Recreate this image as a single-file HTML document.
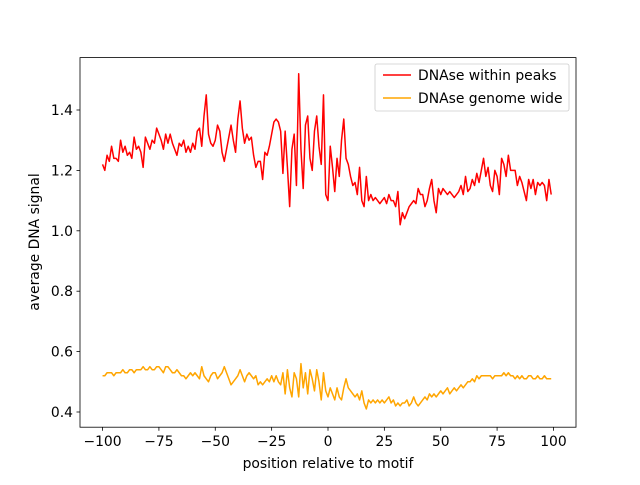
<!DOCTYPE html>
<html><head><meta charset="utf-8"><style>
body{margin:0;background:#fff}
svg text{font-family:"DejaVu Sans","Liberation Sans",sans-serif;font-size:13.9px;fill:#000}
</style></head><body>
<svg id="chart" width="640" height="480" xmlns="http://www.w3.org/2000/svg">
<rect width="640" height="480" fill="#fff"/>
<g id="plot"></g>
<rect x="80" y="57.6" width="496" height="369.6" fill="none" stroke="#000" stroke-width="0.8"/>
<g id="xt"></g><g id="yt"></g>
<text x="328" y="468" text-anchor="middle">position relative to motif</text>
<text transform="translate(39,242) rotate(-90)" text-anchor="middle">average DNA signal</text>
<g>
<rect x="375" y="64" width="194" height="47" rx="2" fill="#fff" fill-opacity="0.8" stroke="#ccc" stroke-width="0.8"/>
<g><line x1="383" y1="75" x2="411" y2="75" stroke="red" stroke-width="1.5"/><text x="418" y="80">DNAse within peaks</text></g>
<g><line x1="383" y1="98" x2="411" y2="98" stroke="orange" stroke-width="1.5"/><text x="418" y="103">DNAse genome wide</text></g>
</g>
</svg>
<script>
const xTicks=[-100,-75,-50,-25,0,25,50,75,100];
const yTicks=[0.4,0.6,0.8,1.0,1.2,1.4];
const yTickLabels=["0.4","0.6","0.8","1.0","1.2","1.4"];
const positions=[];for(let i=-100;i<100;i++)positions.push(i);
const peaks=[1.22,1.20,1.25,1.23,1.28,1.24,1.24,1.23,1.30,1.26,
1.28,1.25,1.26,1.24,1.31,1.27,1.28,1.26,1.21,1.31,
1.29,1.27,1.30,1.29,1.34,1.32,1.30,1.27,1.32,1.29,
1.32,1.29,1.27,1.25,1.29,1.28,1.30,1.26,1.28,1.26,
1.29,1.27,1.33,1.34,1.28,1.38,1.45,1.32,1.29,1.28,
1.30,1.35,1.33,1.26,1.23,1.27,1.31,1.35,1.30,1.26,
1.37,1.43,1.34,1.29,1.32,1.30,1.31,1.25,1.21,1.23,
1.23,1.17,1.26,1.25,1.28,1.32,1.36,1.37,1.36,1.33,
1.19,1.33,1.21,1.08,1.27,1.32,1.15,1.52,1.27,1.14,
1.35,1.38,1.24,1.20,1.33,1.38,1.28,1.22,1.45,1.12,
1.10,1.28,1.21,1.13,1.24,1.18,1.30,1.37,1.24,1.22,
1.18,1.15,1.16,1.12,1.21,1.10,1.08,1.18,1.10,1.12,
1.10,1.11,1.10,1.09,1.10,1.11,1.09,1.12,1.10,1.10,
1.08,1.13,1.02,1.06,1.04,1.06,1.08,1.09,1.10,1.09,
1.14,1.12,1.12,1.08,1.10,1.14,1.17,1.10,1.06,1.14,
1.12,1.14,1.13,1.12,1.13,1.12,1.11,1.12,1.13,1.15,
1.12,1.18,1.13,1.14,1.17,1.15,1.19,1.16,1.20,1.24,
1.18,1.21,1.15,1.13,1.20,1.18,1.12,1.24,1.22,1.18,
1.25,1.20,1.20,1.20,1.15,1.18,1.16,1.13,1.10,1.17,
1.14,1.17,1.12,1.16,1.15,1.16,1.15,1.10,1.17,1.12];
const genome=[.52,.52,.53,.53,.53,.52,.53,.53,.53,.54,
.53,.53,.54,.54,.53,.54,.54,.54,.55,.54,
.54,.55,.54,.54,.55,.55,.54,.53,.55,.55,
.54,.53,.53,.54,.53,.52,.52,.51,.52,.53,
.52,.53,.52,.51,.55,.52,.51,.50,.52,.53,
.53,.51,.52,.53,.55,.53,.51,.49,.50,.51,
.52,.54,.52,.50,.52,.53,.52,.51,.52,.49,
.50,.49,.50,.51,.50,.52,.50,.52,.50,.49,
.53,.46,.54,.48,.45,.53,.51,.45,.56,.48,
.53,.46,.54,.51,.47,.54,.50,.44,.53,.47,
.45,.48,.46,.44,.48,.45,.44,.48,.51,.48,
.47,.46,.45,.46,.44,.47,.43,.41,.44,.43,
.44,.43,.44,.43,.44,.43,.44,.45,.43,.44,
.42,.43,.42,.43,.43,.44,.42,.43,.45,.43,
.42,.43,.44,.45,.44,.46,.45,.46,.45,.46,
.47,.46,.47,.48,.46,.47,.48,.47,.48,.49,
.48,.49,.50,.50,.51,.50,.52,.51,.52,.52,
.52,.52,.52,.51,.52,.52,.52,.52,.53,.52,
.53,.52,.52,.51,.52,.51,.52,.51,.51,.52,
.52,.51,.51,.52,.51,.51,.52,.51,.51,.51];
const NS="http://www.w3.org/2000/svg";
function sx(v){return 80+(v+110)*496/220;}
function sy(v){return 412-(v-0.4)*302;}
function mk(tag,attrs,parent){const e=document.createElementNS(NS,tag);for(const k in attrs)e.setAttribute(k,attrs[k]);parent.appendChild(e);return e;}
const plot=document.getElementById('plot');
function line(vals,color,name){
  const d=vals.map((v,i)=>(i?'L':'M')+sx(positions[i]).toFixed(2)+','+sy(v).toFixed(2)).join('');
  const p=mk('path',{d:d,fill:'none',stroke:color,'stroke-width':1.5,'stroke-linejoin':'round'},plot);
  
  
}
line(peaks,'red','series-within-peaks');
line(genome,'orange','series-genome-wide');
const xt=document.getElementById('xt');
xTicks.forEach(t=>{
  const x=sx(t);
  mk('line',{x1:x,x2:x,y1:427.2,y2:430.7,stroke:'#000','stroke-width':0.8},xt);
  const tx=mk('text',{x:x,y:446,'text-anchor':'middle'},xt);
  tx.textContent=t<0?'\u2212'+(-t):String(t);
  
  
});
const yt=document.getElementById('yt');
yTicks.forEach((t,i)=>{
  const y=sy(t);
  mk('line',{x1:76.5,x2:80,y1:y,y2:y,stroke:'#000','stroke-width':0.8},yt);
  const tx=mk('text',{x:73,y:y+5,'text-anchor':'end'},yt);
  tx.textContent=yTickLabels[i];
  
  
});
</script>
</body></html>
